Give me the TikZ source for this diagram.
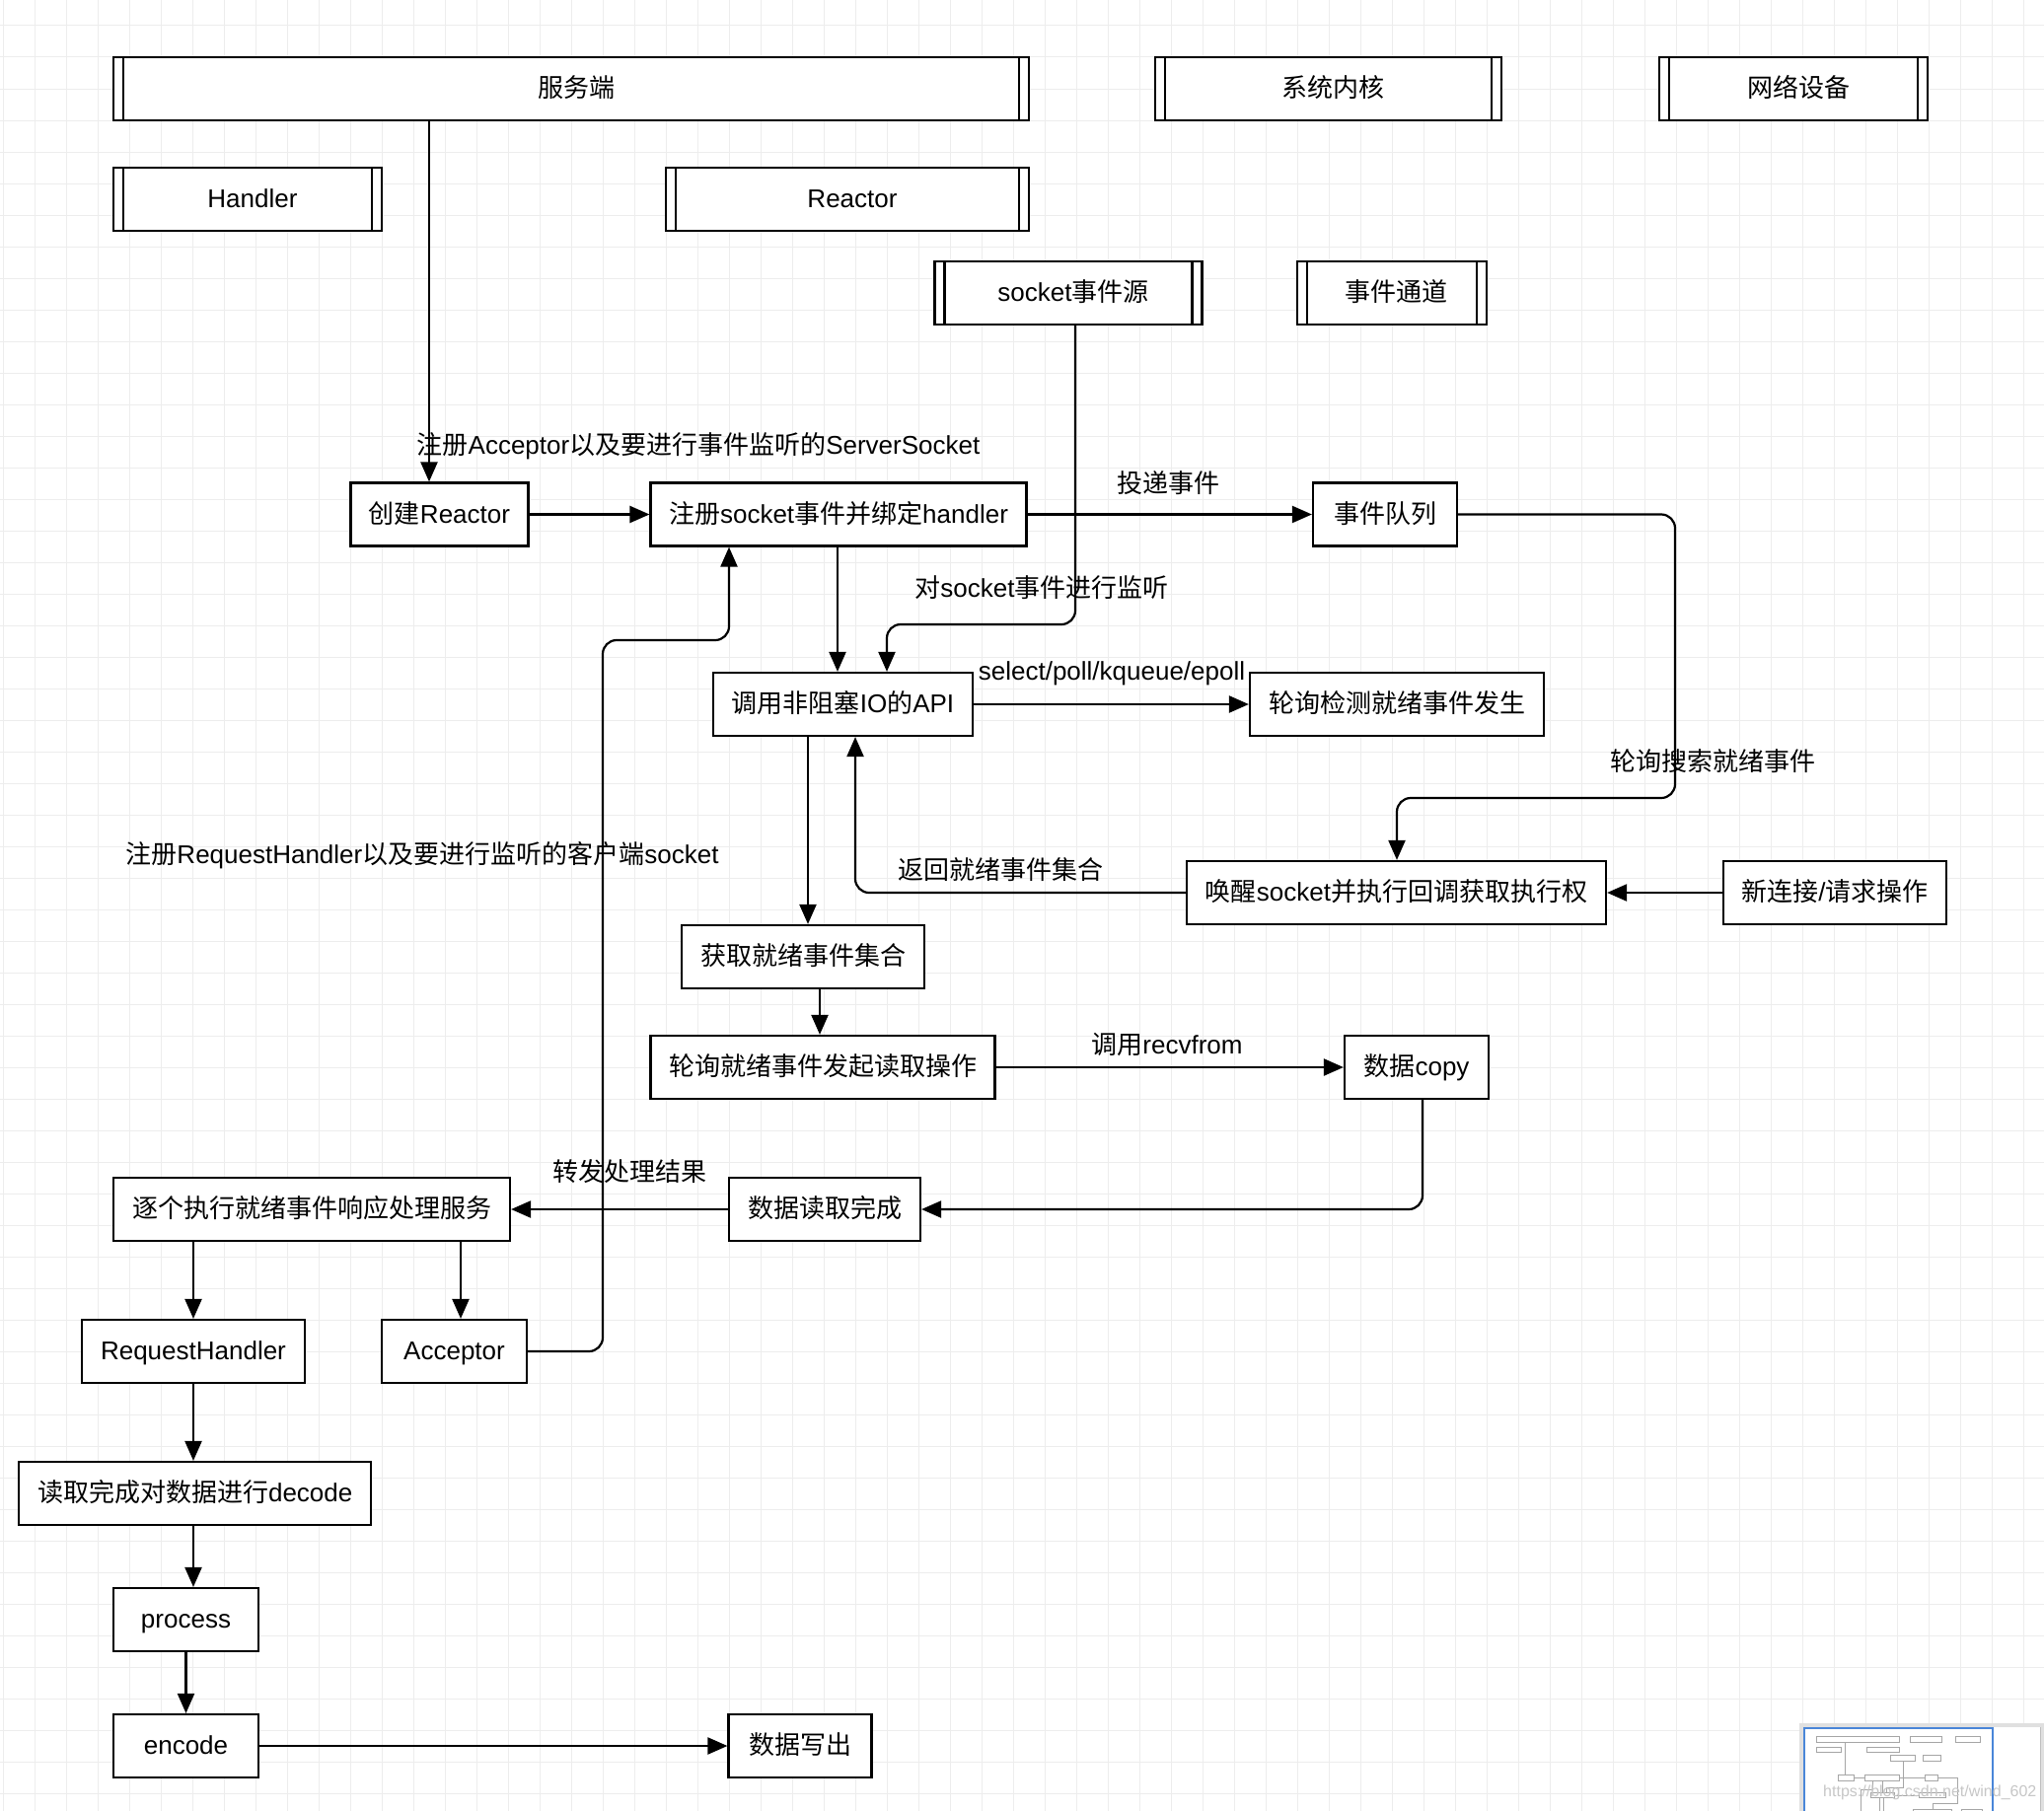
\documentclass[tikz,border=0pt]{standalone}
\usepackage{fontspec}
\setmainfont{Liberation Sans}
\newfontfamily\zhfont{Noto Sans CJK SC}
\newcommand\zh[1]{{\zhfont #1}}
\newcommand\fs{\fontsize{26}{30}\selectfont}
\usetikzlibrary{arrows.meta}
\definecolor{gridc}{RGB}{237,237,237}
\definecolor{minib}{RGB}{74,134,216}
\tikzset{
  box/.style={draw, line width=2.2pt, fill=white, inner sep=0pt, minimum height=64pt, font=\fs, align=center, text height=21.5pt, text depth=4.5pt},
  dbar/.style={box, execute at begin node={\hspace*{10pt}}, path picture={
      \draw[line width=2.2pt] ([xshift=10pt]path picture bounding box.north west) -- ([xshift=10pt]path picture bounding box.south west);
      \draw[line width=2.2pt] ([xshift=-10pt]path picture bounding box.north east) -- ([xshift=-10pt]path picture bounding box.south east);}},
  lbl/.style={inner sep=0pt, font=\fs},
  arr/.style={line width=2.2pt, -{Triangle[length=20pt,width=17pt]}, rounded corners=14pt},
}
\begin{document}
\begin{tikzpicture}[x=1pt,y=-1pt]
\useasboundingbox (0,0) rectangle (2072,1836);
\fill[white] (0,0) rectangle (2072,1836);
% grid
\foreach \i in {0,...,64} \draw[gridc, line width=1pt] (3.7+32*\i,0) -- (3.7+32*\i,1836);
\foreach \j in {0,...,57} \draw[gridc, line width=1pt] (0,26+32*\j) -- (2072,26+32*\j);

% top lanes
\node[dbar, minimum width=928pt] (srv) at (579,90) {\zh{服务端}};
\node[dbar, minimum width=351pt] (ker) at (1346.5,90) {\zh{系统内核}};
\node[dbar, minimum width=272pt] (net) at (1818,90) {\zh{网络设备}};
\node[dbar, minimum width=272pt] (hdl) at (251,202) {Handler};
\node[dbar, minimum width=368pt] (rea) at (859,202) {Reactor};
\node[dbar, minimum width=271pt] (src) at (1083,297) {socket\zh{事件源}};
\node[dbar, minimum width=192pt] (chn) at (1410.6,297) {\zh{事件通道}};

% process boxes
\node[box, minimum width=180pt] (crt) at (445.5,521.5) {\zh{创建}Reactor};
\node[box, minimum width=381pt] (reg) at (850,521.5) {\zh{注册}socket\zh{事件并绑定}handler};
\node[box, minimum width=146pt] (que) at (1404,521.5) {\zh{事件队列}};
\node[box, minimum width=263pt] (api) at (854.5,714) {\zh{调用非阻塞}IO\zh{的}API};
\node[box, minimum width=298pt] (det) at (1416,714) {\zh{轮询检测就绪事件发生}};
\node[box, minimum width=425pt] (wake) at (1415.5,905) {\zh{唤醒}socket\zh{并执行回调获取执行权}};
\node[box, minimum width=226pt] (new) at (1860,905) {\zh{新连接}/\zh{请求操作}};
\node[box, minimum width=246pt] (get) at (814,970) {\zh{获取就绪事件集合}};
\node[box, minimum width=349pt] (poll) at (834,1082) {\zh{轮询就绪事件发起读取操作}};
\node[box, minimum width=146pt] (copy) at (1436,1082) {\zh{数据}copy};
\node[box, minimum width=194pt] (done) at (836,1226) {\zh{数据读取完成}};
\node[box, minimum width=402pt] (exec) at (316,1226) {\zh{逐个执行就绪事件响应处理服务}};
\node[box, minimum width=226pt] (rh) at (196,1370) {RequestHandler};
\node[box, minimum width=147pt] (acc) at (460.5,1370) {Acceptor};
\node[box, minimum width=357pt] (dec) at (197.7,1514) {\zh{读取完成对数据进行}decode};
\node[box, minimum width=147pt] (proc) at (188.5,1642) {process};
\node[box, minimum width=147pt] (enc) at (188.5,1770) {encode};
\node[box, minimum width=145pt] (out) at (811,1770) {\zh{数据写出}};

% helper coordinates
\coordinate (c1) at (435,0);
\coordinate (k1) at (1090,633);
\coordinate (k2) at (899,633);
\coordinate (q1) at (849,0);
\coordinate (r1) at (1698,809);
\coordinate (r2) at (1416,809);
\coordinate (s1) at (867,0);
\coordinate (t1) at (819,0);
\coordinate (t2) at (831,0);
\coordinate (u1) at (1442,0);
\coordinate (v1) at (196,0);
\coordinate (v2) at (467,0);
\coordinate (w1) at (611,649);
\coordinate (w2) at (739,649);

% connectors
\draw[arr] (srv.south -| c1) -- (crt.north -| c1);
\draw[arr] (crt.east) -- (reg.west);
\draw[arr] (reg.east) -- (que.west);
\draw[arr] (src.south -| k1) -- (k1) -- (k2) -- (api.north -| k2);
\draw[arr] (reg.south -| q1) -- (api.north -| q1);
\draw[arr] (api.east) -- (det.west);
\draw[arr] (que.east) -- (que.east -| r1) -- (r1) -- (r2) -- (wake.north -| r2);
\draw[arr] (new.west) -- (wake.east);
\draw[arr] (wake.west) -- (wake.west -| s1) -- (api.south -| s1);
\draw[arr] (api.south -| t1) -- (get.north -| t1);
\draw[arr] (get.south -| t2) -- (poll.north -| t2);
\draw[arr] (poll.east) -- (copy.west);
\draw[arr] (copy.south -| u1) -- (done.east -| u1) -- (done.east);
\draw[arr] (done.west) -- (exec.east);
\draw[arr] (exec.south -| v1) -- (rh.north -| v1);
\draw[arr] (exec.south -| v2) -- (acc.north -| v2);
\draw[arr] (acc.east) -- (acc.east -| w1) -- (w1) -- (w2) -- (reg.south -| w2);
\draw[arr] (rh.south -| v1) -- (dec.north -| v1);
\draw[arr] (dec.south -| v1) -- (proc.north -| v1);
\draw[arr] (proc.south) -- (enc.north);
\draw[arr] (enc.east) -- (out.west);

% edge labels
\node[lbl] (l1) at (708,452) {\zh{注册}Acceptor\zh{以及要进行事件监听的}ServerSocket};
\node[lbl] (l2) at (1184,490) {\zh{投递事件}};
\node[lbl] (l3) at (1056,596) {\zh{对}socket\zh{事件进行监听}};
\node[lbl] (l4) at (1127,683) {select/poll/kqueue/epoll};
\node[lbl] (l5) at (1736,772) {\zh{轮询搜索就绪事件}};
\node[lbl] (l6) at (1014,882) {\zh{返回就绪事件集合}};
\node[lbl] (l7) at (428,867) {\zh{注册}RequestHandler\zh{以及要进行监听的客户端}socket};
\node[lbl] (l8) at (1183,1059) {\zh{调用}recvfrom};
\node[lbl] (l9) at (638,1188) {\zh{转发处理结果}};

% outline panel (bottom right)
\fill[black!12] (1824,1747) rectangle (2072,1836);
\fill[white] (1828,1751) rectangle (2068,1836);
\draw[black!25, line width=1pt] (2068,1751) -- (2068,1836);
\begin{scope}
\clip (1829,1752) rectangle (2020,1836);
\begin{scope}[shift={(1831.35,1755.5)}, scale=0.09]
\foreach \a/\b/\c/\d in {115/58/1043/122, 1171/58/1522/122, 1682/58/1954/122, 115/170/387/234, 675/170/1043/234, 947/265/1218/329, 1315/265/1506/329, 355/489/535/553, 659/489/1040/553, 1331/489/1477/553, 723/682/986/746, 1267/682/1565/746, 1203/873/1628/937, 1747/873/1973/937, 691/938/937/1002}
  \draw[black!35, line width=0.6pt] (\a,\b) rectangle (\c,\d);
\draw[black!35, line width=0.5pt] (435,122) -- (435,489) (535,521) -- (659,521) (1040,521) -- (1331,521) (1090,329) -- (1090,633) -- (899,633) -- (899,682) (849,553) -- (849,682) (986,714) -- (1267,714) (1477,521) -- (1698,521) -- (1698,809) -- (1416,809) -- (1416,873) (1747,905) -- (1628,905) (1203,905) -- (867,905) -- (867,746) (611,649) -- (611,1000) (611,649) -- (739,649) -- (739,553) (819,746) -- (819,938);
\end{scope}
\end{scope}
\draw[minib, line width=2pt] (1829,1836) -- (1829,1752) -- (2020,1752) -- (2020,1836);
\node[anchor=west, inner sep=0pt, font=\fontsize{16}{18}\selectfont, text=black!22] (wm) at (1848,1817) {https://blog.csdn.net/wind\_602};
\end{tikzpicture}
\end{document}
